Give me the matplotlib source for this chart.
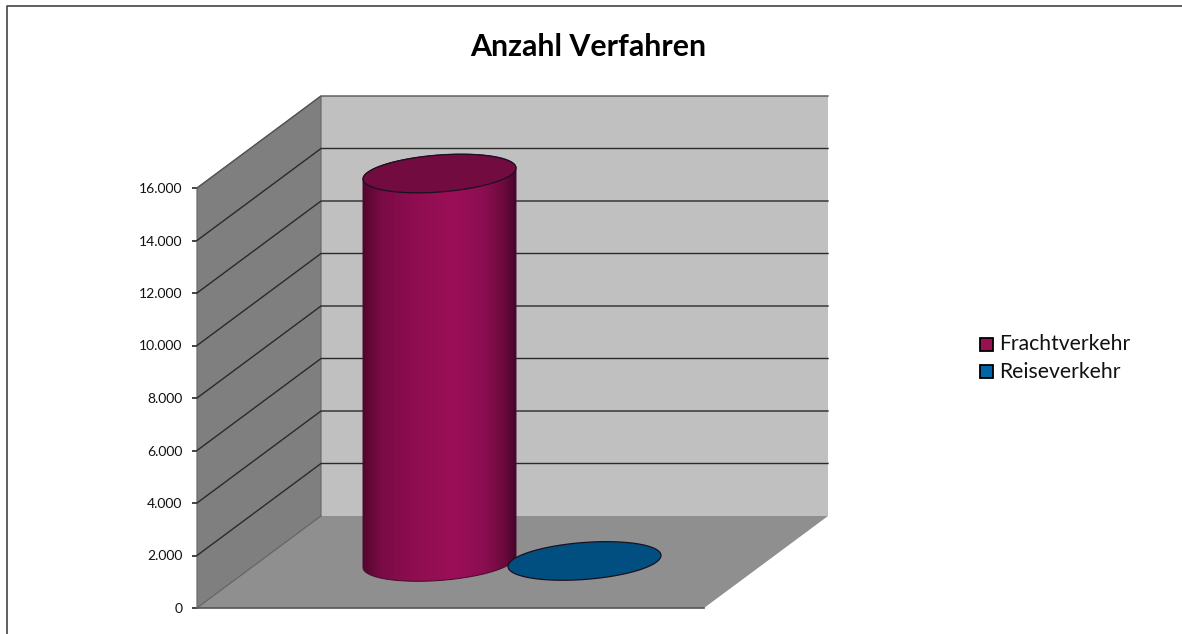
"""
Anzahl Verfahren - 3D style cylinder chart, drawn on a flat axes.
"""
import numpy as np
import matplotlib
matplotlib.use('Agg')
import matplotlib.pyplot as plt
from matplotlib.colors import LinearSegmentedColormap
from matplotlib.patches import Polygon, Rectangle

plt.rcParams['font.family'] = ['Lato', 'DejaVu Sans']

# data
categories = ['Frachtverkehr', 'Reiseverkehr']
values = [14800, 40]
ticks = [0, 2000, 4000, 6000, 8000, 10000, 12000, 14000, 16000]
tick_labels = ['0', '2.000', '4.000', '6.000', '8.000', '10.000', '12.000', '14.000', '16.000']

# x runs in pixels, y in chart units (420 px = 16000)
W, H = 1182, 634
upp = 16000 / 420
y0_px = 608
fig = plt.figure(figsize=(W / 100, H / 100), dpi=100)
ax = fig.add_axes([0, 0, 1, 1])
ax.set_xlim(0, W)
ax.set_ylim(-(H - y0_px) * upp, y0_px * upp)
ax.axis('off')

# box geometry
xl, xr = 197, 704
dx, dy = 124, 92 * upp
top = ticks[-1]

# walls and floor
ax.add_patch(Polygon([(xl + dx, dy), (xl + dx, top + dy), (xr + dx, top + dy), (xr + dx, dy)],
                     fc='#c0c0c0', ec='none', zorder=1))
ax.add_patch(Polygon([(xl, 0), (xl, top), (xl + dx, top + dy), (xl + dx, dy)],
                     fc='#7f7f7f', ec='#666666', lw=0.8, zorder=1))
ax.add_patch(Polygon([(xl, 0), (xr, 0), (xr + dx, dy), (xl + dx, dy)],
                     fc='#8f8f8f', ec='none', zorder=1))
ax.plot([xl, xr], [0, 0], color='#555555', lw=1.2, zorder=2)
ax.plot([xl, xl + dx], [0, dy], color='#666666', lw=0.8, zorder=2)

# grid lines along side and back wall
for t in ticks[1:]:
    ax.plot([xl, xl + dx, xr + dx], [t, t + dy, t + dy],
            color='#555555' if t == top else '#2a2a2a', lw=1.0, zorder=2)

# value axis with tick marks
sec = ax.secondary_yaxis(xl / W)
sec.set_yticks(ticks)
sec.set_yticklabels(tick_labels, fontsize=10, color='#111111')
sec.tick_params(length=3.5, width=1.1, color='#111111', pad=7)
sec.spines['left'].set_bounds(0, top)
sec.spines['left'].set_color('#666666')


def ellipse(cx, cy, n=120):
    # tilted ellipse of the cylinder ends, x in px, y in chart units
    t = np.linspace(0, 2 * np.pi, n)
    return cx + 76.5 * np.cos(t), cy + (18.5 * np.sin(t) + 5.5 * np.cos(t)) * upp


cyl_x = [439.5, 584.5]
cyl_base = [46 * upp, 46 * upp]
side_stops = [0, 0.12, 0.3, 0.6, 0.8, 0.93, 1]
side_colors = [['#55062f', '#7a0b45', '#8c0d4f', '#9c0f58', '#8a0d50', '#6a0a3c', '#45052b'], None]
top_colors = ['#720b3f', '#004f80']
legend_colors = ['#97104f', '#0065a5']

for i, (cx, base, v) in enumerate(zip(cyl_x, cyl_base, values)):
    tx, ty = ellipse(cx, base + v)
    if side_colors[i] is not None:
        # body outline: lower half of base ellipse, upper half of top ellipse
        t = np.linspace(np.pi, 2 * np.pi, 80)
        bx = cx + 76.5 * np.cos(t)
        by = base + (18.5 * np.sin(t) + 5.5 * np.cos(t)) * upp
        t2 = np.linspace(0, np.pi, 80)
        ux = cx + 76.5 * np.cos(t2)
        uy = base + v + (18.5 * np.sin(t2) + 5.5 * np.cos(t2)) * upp
        body = np.column_stack([np.r_[bx, ux], np.r_[by, uy]])
        outline = Polygon(body, closed=True, fc='none', ec='#4a0a2c', lw=0.7, zorder=5)
        ax.add_patch(outline)
        cmap = LinearSegmentedColormap.from_list('cyl', list(zip(side_stops, side_colors[i])))
        im = ax.imshow(np.linspace(0, 1, 256).reshape(1, -1), cmap=cmap, aspect='auto', zorder=4,
                       extent=[cx - 76.5, cx + 76.5, base - 30 * upp, base + v + 30 * upp])
        im.set_clip_path(outline)
    ax.fill(tx, ty, fc=top_colors[i], ec='#1a1020', lw=0.9, zorder=6)

ax.set_xlim(0, W)
ax.set_ylim(-(H - y0_px) * upp, y0_px * upp)

# legend, drawn by hand since the swatches sit tight on the text
for name, col, py in zip(categories, legend_colors, [344.5, 371.5]):
    yy = (y0_px - py) * upp
    ax.add_patch(Rectangle((980, yy - 6.5 * upp), 13, 13 * upp, fc=col, ec='black', lw=1.3, zorder=6))
    ax.text(999, yy, name, fontsize=15.2, va='center', ha='left', color='#111111')

fig.text(588 / W, 1 - 47 / H, 'Anzahl Verfahren', fontsize=21.8, fontweight='bold',
         ha='center', va='center', color='black')

# chart border, left and top only reach the picture edges
ax.plot([7, 7, W], [-(H - y0_px) * upp, (y0_px - 5.5) * upp, (y0_px - 5.5) * upp],
        color='#444444', lw=1.2, zorder=8, clip_on=False)

fig.savefig('out.png', dpi=100)
